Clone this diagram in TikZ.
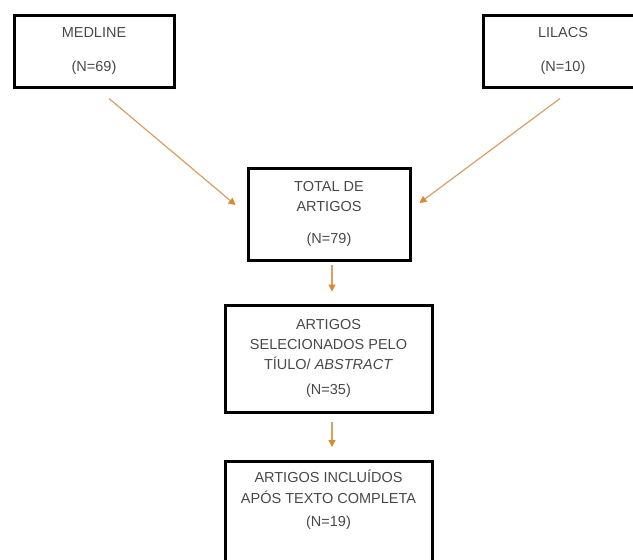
\documentclass[tikz,border=0pt]{standalone}
\usepackage{fontspec}
\setmainfont{Liberation Sans}
\usetikzlibrary{arrows.meta}
\definecolor{flowline}{RGB}{214,160,100}
\definecolor{flowtip}{RGB}{224,134,44}
\definecolor{boxtext}{RGB}{72,72,72}
\tikzset{
	stagebox/.style={draw=black, line width=3pt, align=center, text=boxtext,
		font=\fontsize{14.5}{20}\selectfont, inner sep=0pt},
	stagetext/.style={align=center, text=boxtext, font=\fontsize{14.5}{21}\selectfont},
	flow/.style={draw=flowline, line width=1.2pt,
		-{Triangle[length=7pt,width=7pt,color=flowtip,fill=flowtip]}}
}
\begin{document}
\begin{tikzpicture}[x=1pt,y=-1pt]
	\useasboundingbox (0,0) rectangle (633,560);
	\clip (0,0) rectangle (633,560);
	% databases
	\node[stagebox, minimum width=160, minimum height=72] (medline) at (94,51) {MEDLINE\\[14pt](N=69)};
	\node[stagebox, minimum width=160, minimum height=72] (lilacs) at (563,51) {LILACS\\[14pt](N=10)};
	% merged set
	\node[stagebox, minimum width=162, minimum height=92] (total) at (329,214) {TOTAL DE\\ARTIGOS\\[12pt](N=79)};
	% screening
	\node[stagebox, minimum width=207, minimum height=107] (select) at (328.5,358.5)
		{ARTIGOS\\SELECIONADOS PELO\\TÍULO/ \textit{ABSTRACT}\\[5pt](N=35)};
	% final set (box runs off the page)
	\node[stagebox, minimum width=207, minimum height=130, anchor=north] (incl) at (328.5,460) {};
	\node[stagetext] (incltext) at (328.5,500) {ARTIGOS INCLUÍDOS\\APÓS TEXTO COMPLETA\\[2pt](N=19)};
	% arrows
	\draw[flow] ([shift={(15,10)}]medline.south) -- ([shift={(-11,-9)}]total.west);
	\draw[flow] ([shift={(-3,10)}]lilacs.south) -- ([shift={(8,-11)}]total.east);
	\draw[flow] ([shift={(3,3)}]total.south) -- ([shift={(3.5,-12)}]select.north);
	\draw[flow] ([shift={(3.5,8)}]select.south) -- ([shift={(3.5,-13)}]incl.north);
\end{tikzpicture}
\end{document}
